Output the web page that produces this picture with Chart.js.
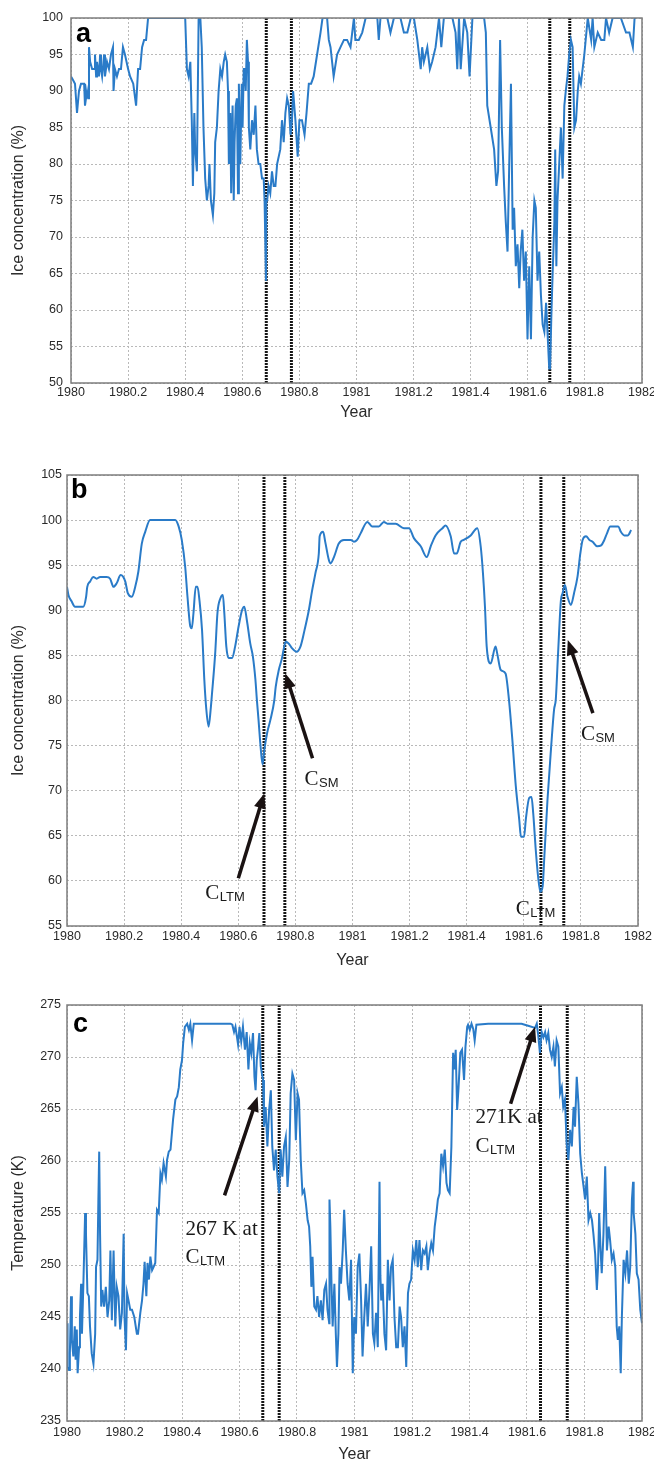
<!DOCTYPE html>
<html>
<head>
<meta charset="utf-8">
<script src="https://cdn.jsdelivr.net/npm/chart.js@4.4.1/dist/chart.umd.min.js"></script>
<style>
  html, body { margin: 0; padding: 0; background: #fff; }
  body { width: 654px; height: 1464px; position: relative; overflow: hidden; }
  canvas { position: absolute; left: 0; }
</style>
</head>
<body>
<canvas id="chartA" width="654" height="430" style="top:0px"></canvas>
<canvas id="chartB" width="654" height="545" style="top:430px"></canvas>
<canvas id="chartC" width="654" height="489" style="top:975px"></canvas>
<script>
// ---- panel a : ice concentration (%) ----
const aYears = [1980.000,1980.007,1980.014,1980.021,1980.028,1980.035,1980.046,1980.049,1980.056,1980.060,1980.063,1980.067,1980.074,1980.081,1980.084,1980.088,1980.091,1980.098,1980.102,1980.105,1980.109,1980.116,1980.119,1980.126,1980.133,1980.140,1980.147,1980.149,1980.154,1980.161,1980.168,1980.175,1980.182,1980.189,1980.200,1980.207,1980.218,1980.228,1980.235,1980.242,1980.249,1980.256,1980.263,1980.270,1980.300,1980.350,1980.400,
  1980.406,1980.412,1980.418,1980.423,1980.427,1980.432,1980.435,1980.441,1980.447,1980.453,1980.458,1980.464,1980.470,1980.476,1980.482,1980.485,1980.490,1980.497,1980.502,1980.505,1980.511,1980.517,1980.523,1980.529,1980.535,1980.540,1980.546,1980.550,1980.553,1980.558,1980.561,1980.566,1980.570,1980.573,1980.577,1980.581,1980.585,1980.588,1980.593,1980.598,1980.601,1980.605,1980.608,1980.612,1980.616,1980.620,1980.623,1980.628,1980.634,1980.640,1980.646,1980.651,1980.657,1980.663,1980.669,1980.675,1980.678,1980.683,1980.684,1980.687,1980.692,1980.698,1980.704,1980.710,1980.716,1980.722,1980.733,1980.739,1980.745,1980.751,1980.757,1980.763,1980.769,1980.774,1980.778,1980.786,1980.794,1980.800,1980.809,1980.818,1980.825,1980.833,1980.841,1980.850,1980.862,1980.874,1980.881,
  1980.885,1980.897,1980.903,1980.909,1980.920,1980.932,1980.944,1980.956,1980.967,1980.979,1980.991,1980.996,1981.008,1981.020,1981.032,1981.043,1981.073,1981.078,1981.084,1981.108,1981.119,1981.131,1981.154,1981.166,1981.178,1981.190,1981.201,1981.213,1981.225,1981.230,1981.236,1981.248,1981.257,1981.265,1981.277,1981.289,1981.297,1981.306,1981.336,1981.347,1981.353,1981.359,1981.365,1981.377,1981.388,1981.396,1981.406,1981.447,1981.453,1981.458,1981.470,1981.482,1981.490,1981.496,1981.503,1981.509,1981.517,1981.523,1981.529,1981.535,1981.541,1981.547,1981.552,1981.558,1981.564,1981.570,1981.575,1981.581,1981.587,1981.593,1981.599,1981.605,1981.611,1981.617,1981.623,1981.628,1981.634,1981.640,1981.646,1981.652,1981.658,1981.664,1981.669,1981.675,1981.678,1981.683,1981.687,1981.693,1981.696,1981.700,1981.704,1981.710,1981.716,1981.722,1981.728,1981.733,1981.739,1981.745,1981.751,1981.757,1981.763,1981.769,1981.775,1981.780,1981.786,1981.798,1981.810,1981.822,1981.827,1981.833,1981.845,1981.857,1981.868,1981.874,1981.885,1981.897,1981.926,1981.944,1981.956,1981.968,1981.974,1981.979];
const aConc = [92,91.5,91,87,90,91,91,88,90,89,96,94,93,93,95,92,94,92,95,93,92,95,92,94,93,95,96,90,93,92,93,93,96,95,93,92,91,88,93,93,96,97,97,100,100,100,100,
  93,92,94,86,77,87,82,79,100,100,96,85,78,75,77,80,75,73,76,83,85,90,93,92,94,95,94,90,80,87,76,88,75,83,88,89,76,91,80,91,85,93,93,90,97,94,85,82,86,84,88,82,80,80,78,78,75,64,75,75,77,76,79,77,77,80,82,86,83,87,89,88,84,86,90,86,81,86,86,84,87,91,91,92,95,98,100,
  100,100,97,96,92,95,96,97,97,96,100,97,97,98,100,100,100,97,100,100,98,100,100,98,98,100,100,97,93,96,94,96,93,94,96,100,96,100,100,98,93,100,93,100,98,92,100,100,98,88,85,82,77,79,97,85,77,72,68,80,91,71,74,66,69,63,68,71,64,68,56,66,56,70,75,74,64,68,62,58,57,61,57,52,52,60,65,72,82,66,75,80,85,78,88,90,92,95,97,96,85,86,90,92,91,95,100,97,100,96,98,97,97,100,98,100,100,98,98,96,100,100];
const aMarks = [1980.684, 1980.772, 1981.677, 1981.747];
const aRange = [50, 100];

// ---- panel b : smoothed ice concentration (%) ----
const bYears = [1980.000,1980.005,1980.016,1980.028,1980.046,1980.057,1980.067,1980.071,1980.081,1980.092,1980.104,1980.116,1980.139,1980.151,1980.163,1980.174,1980.188,1980.204,1980.213,1980.227,1980.239,1980.250,1980.262,1980.274,1980.291,1980.379,1980.391,1980.402,1980.414,1980.422,1980.432,1980.437,1980.443,1980.451,1980.457,1980.464,1980.473,1980.481,1980.488,1980.496,1980.504,1980.508,1980.519,1980.527,1980.537,1980.546,1980.551,1980.558,1980.566,1980.578,1980.589,1980.601,1980.613,1980.621,1980.630,1980.642,1980.651,1980.660,1980.665,1980.671,1980.677,1980.685,1980.691,1980.701,1980.712,1980.726,1980.731,1980.742,1980.753,1980.761,1980.766,1980.777,1980.788,1980.804,1980.818,1980.832,1980.847,1980.858,1980.870,1980.882,1980.885,1980.897,1980.905,1980.917,1980.923,1980.935,1980.952,1980.970,1980.994,1981.005,1981.016,1981.028,1981.052,1981.069,1981.092,1981.110,1981.122,1981.151,1981.180,1981.198,1981.215,1981.239,1981.260,1981.274,1981.291,1981.315,1981.326,1981.344,1981.356,1981.365,1981.379,1981.390,1981.414,1981.437,1981.449,1981.457,1981.464,1981.470,1981.484,1981.501,1981.507,1981.519,1981.536,1981.548,1981.560,1981.572,1981.584,1981.590,1981.601,1981.607,1981.619,1981.627,1981.633,1981.642,1981.650,1981.658,1981.666,1981.672,1981.683,1981.695,1981.706,1981.712,1981.720,1981.730,1981.736,1981.744,1981.753,1981.765,1981.776,1981.788,1981.798,1981.806,1981.818,1981.830,1981.841,1981.857,1981.871,1981.882,1981.891,1981.903,1981.917,1981.931,1981.940,1981.952,1981.964,1981.976];
const bConc = [92.6,91.7,91,90.4,90.4,90.4,91.5,92.6,93.2,93.7,93.5,93.7,93.7,93.5,92.6,93,93.9,93.2,91.9,91.5,92.6,94.3,97.4,98.7,100,100,99.3,97.8,94.8,91.5,88.2,88,89.7,92.6,92.6,91.1,87.8,82.3,79,77.1,79.3,80.8,85.2,89.7,91.3,91.7,89.7,86,84.7,84.7,86,88.2,90,90.4,88.9,86.3,84.9,82.3,80.1,77.8,75.3,72.9,74.5,76.4,77.8,80,81.5,83.4,84.7,86,86.5,86.3,85.8,85.4,86,87.8,90,92.1,94.1,96.3,98.2,98.7,97.5,95.6,95.2,95.9,97.4,97.8,97.8,97.6,97.8,98.5,99.8,99.3,99.3,99.8,99.6,99.6,99.1,99.1,98,97.1,95.9,97.1,98.3,99.1,99.4,98.2,96.3,96.3,97.6,97.8,98.3,99.1,97.1,94.1,90.4,86,84.1,86,85.2,83.4,83,80.1,75.6,70.5,66.8,64.9,64.9,66.8,69.2,69.3,67.5,63.4,60.5,58.8,59.4,62.7,69,74.5,79,80.1,85.2,91.1,91.9,92.8,91.5,90.6,91.9,93.7,96.3,97.8,98.2,97.8,97.6,97.1,97.2,97.8,98.5,99.3,99.3,99.3,98.7,98.3,98.3,98.9];
const bMarks = [1980.690, 1980.763, 1981.660, 1981.740];
const bRange = [55, 105];
const bArrows = [[1980.600, 60.3, 1980.691, 69.7], [1980.860, 73.6, 1980.765, 83.0], [1981.842, 78.6, 1981.754, 86.7]];
const bNotes = [
  { x: 1980.484, y: 58.0, text: 'C', sub: 'LTM' },
  { x: 1980.832, y: 70.6, text: 'C', sub: 'SM' },
  { x: 1981.800, y: 75.6, text: 'C', sub: 'SM' },
  { x: 1981.572, y: 56.2, text: 'C', sub: 'LTM' }
];

// ---- panel c : temperature (K) ----
const cYears = [1980.000,1980.002,1980.007,1980.010,1980.014,1980.017,1980.022,1980.027,1980.030,1980.034,1980.037,1980.042,1980.045,1980.049,1980.052,1980.057,1980.063,1980.066,1980.071,1980.076,1980.080,1980.086,1980.092,1980.098,1980.101,1980.106,1980.109,1980.112,1980.115,1980.119,1980.123,1980.129,1980.135,1980.141,1980.147,1980.151,1980.156,1980.162,1980.168,1980.173,1980.179,1980.185,1980.191,1980.197,1980.200,1980.205,1980.209,1980.214,1980.220,1980.226,1980.234,1980.243,1980.247,1980.255,1980.261,1980.266,1980.270,1980.276,1980.280,1980.285,1980.290,1980.296,1980.301,1980.307,1980.313,1980.319,1980.325,1980.330,1980.336,1980.344,1980.348,1980.354,1980.360,1980.369,1980.377,1980.383,1980.389,1980.394,1980.400,1980.404,1980.410,1980.418,1980.424,1980.429,1980.435,1980.441,1980.487,1980.534,1980.569,1980.575,1980.581,1980.586,1980.595,1980.600,1980.606,1980.612,1980.619,1980.625,1980.631,1980.636,1980.641,1980.647,1980.652,1980.656,1980.660,1980.664,1980.669,1980.674,1980.678,1980.682,1980.685,1980.691,1980.697,1980.703,1980.709,1980.714,1980.720,1980.726,1980.732,1980.738,1980.743,1980.749,1980.755,1980.761,1980.767,1980.773,1980.778,1980.784,1980.790,1980.796,1980.802,1980.807,1980.813,1980.819,1980.825,1980.831,1980.837,1980.842,1980.846,1980.850,1980.854,1980.860,1980.866,1980.871,1980.877,1980.883,1980.889,1980.895,1980.901,1980.906,1980.912,1980.913,1980.916,1980.920,1980.924,1980.930,1980.935,1980.939,1980.944,1980.948,1980.953,1980.959,1980.964,1980.970,1980.976,1980.982,1980.988,1980.994,1980.999,1981.005,1981.011,1981.017,1981.023,1981.028,1981.034,1981.040,1981.046,1981.052,1981.058,1981.064,1981.069,1981.075,1981.081,1981.087,1981.090,1981.093,1981.098,1981.104,1981.110,1981.116,1981.122,1981.127,1981.133,1981.139,1981.145,1981.151,1981.157,1981.162,1981.168,1981.174,1981.180,1981.186,1981.191,1981.197,1981.203,1981.209,1981.215,1981.220,1981.226,1981.232,1981.238,1981.244,1981.250,1981.255,1981.261,1981.267,1981.273,1981.279,1981.285,1981.290,1981.296,1981.302,1981.308,1981.314,1981.320,1981.325,1981.331,1981.337,1981.343,1981.348,1981.352,1981.357,1981.362,1981.368,1981.374,1981.381,1981.386,1981.392,1981.395,1981.401,1981.407,1981.413,1981.418,1981.424,1981.465,1981.523,1981.581,1981.604,1981.628,1981.634,1981.639,1981.645,1981.651,1981.657,1981.663,1981.668,1981.674,1981.680,1981.686,1981.692,1981.697,1981.703,1981.709,1981.715,1981.721,1981.726,1981.732,1981.738,1981.744,1981.750,1981.756,1981.762,1981.767,1981.773,1981.779,1981.785,1981.791,1981.797,1981.802,1981.808,1981.814,1981.820,1981.826,1981.831,1981.837,1981.843,1981.847,1981.851,1981.856,1981.860,1981.866,1981.872,1981.878,1981.884,1981.889,1981.895,1981.901,1981.907,1981.912,1981.916,1981.921,1981.926,1981.930,1981.936,1981.942,1981.948,1981.954,1981.959,1981.965,1981.969,1981.971,1981.977,1981.982,1981.988,1981.994,1982.000];
const cTemp = [244.4,240.2,239.9,241.5,247,242.8,241.2,244.1,240.9,243.8,239.6,242.1,245,248.2,243.4,248.2,255,253,247.3,247,244.1,241.5,240.5,243.4,249.8,250.5,256,260.9,253,246,247.6,246,247.9,245,246.6,251.4,244.7,251.4,244.1,247.9,247,243.8,245.4,253,245,241.8,247.3,246.6,245.7,245.7,245,243.4,243.4,245.4,246.6,248.2,250.3,247,250.2,248.6,250.8,249.5,249.8,250.2,255.3,255,258.8,258.2,259.8,258.5,260.1,260.9,261.1,264,265.9,266.2,267.1,268.8,269.7,271.3,272.9,273.2,272.6,273.2,271.6,273.2,273.2,273.2,273.2,273.1,272.4,272.9,271.2,272.9,271.5,272.9,270.7,272.4,268.8,271.3,270.4,272.3,268.1,266.8,269.7,270.7,272.3,269.1,268.4,267.8,263.3,265.2,261.4,264.9,266.8,261.4,259.1,261.1,258.5,256.9,261.1,258.5,261.4,262.3,257.5,260.1,266.5,268.4,267.8,262,266.5,265.9,260.1,256.9,257.2,255.9,254.3,253.7,251.8,247.9,250.8,246,245.7,247,245,246.6,244.7,247.6,248.2,245.7,244.4,256.3,253.7,248.2,244.1,248.2,243.4,240.2,243.4,249.8,248.2,251.4,255.3,251.4,248.2,246.6,250.5,239.6,245,243.4,249.8,251.1,246.6,241.2,245,248.2,244.1,247.6,251.8,243.4,242.5,245.4,242.1,258,249,246.6,248.2,243.4,241.8,250.5,246.6,249.8,250.5,245,242.1,242.1,246,245,242.1,244.1,240.2,247.3,248.2,248.6,251.4,250.5,252.4,249.8,252.4,249.5,251.4,251.1,251.8,249.5,251.1,252.1,251.4,253.7,255,256.3,256.9,260.7,259.5,261.1,257.9,257.2,256.9,261.4,270.4,268.8,270.7,264.9,267.1,270.4,270.7,267.8,271,272.9,273.1,272.6,273.2,272.7,271.6,273.1,273.2,273.2,273.2,273,272.8,273.2,272.1,270.4,272.4,271.9,272.4,271.6,272.3,270.7,270,271,269.1,271.6,271,266.5,267.1,265.2,265.9,261.7,260.1,263,261.4,265.2,263.3,268.1,265.5,260.7,258.8,257.5,256.3,258.5,254.3,255,254.3,253,251.1,247.6,249.8,255,251.4,249.2,253,259.5,251.4,253.7,252.4,250.5,251.1,249.8,244.1,242.8,244.1,239.6,245,250.5,249.2,251.4,248.2,249.8,256.3,258,255,253,249.2,248.6,245.7,244.4];
const cMarks = [1980.681, 1980.738, 1981.647, 1981.740];
const cRange = [235, 275];
const cArrows = [[1980.548, 256.7, 1980.663, 266.2], [1981.543, 265.5, 1981.628, 272.9]];
const cNotes = [
  { x: 1980.412, y: 252.9, text: '267 K at', sub: '' },
  { x: 1980.412, y: 250.2, text: 'C', sub: 'LTM' },
  { x: 1981.421, y: 263.65, text: '271K at', sub: '' },
  { x: 1981.421, y: 260.9, text: 'C', sub: 'LTM' }
];

const yearTicks = [1980, 1982, 0.2];

Chart.defaults.font.family = '"Liberation Sans", Arial, sans-serif';
Chart.defaults.color = '#2a2a2a';

const BLUE = '#2a7bc8';
const SERIF = '"Liberation Serif", "Times New Roman", serif';
const SANS = '"Liberation Sans", Arial, sans-serif';

function drawArrow(ctx, x0, y0, x1, y1) {
  const ang = Math.atan2(y1 - y0, x1 - x0);
  const len = 15, half = 6;
  const bx = x1 - len * Math.cos(ang), by = y1 - len * Math.sin(ang);
  ctx.strokeStyle = '#1a1212';
  ctx.fillStyle = '#1a1212';
  ctx.lineWidth = 3.5;
  ctx.lineCap = 'butt';
  ctx.beginPath();
  ctx.moveTo(x0, y0);
  ctx.lineTo(bx + 3 * Math.cos(ang), by + 3 * Math.sin(ang));
  ctx.stroke();
  ctx.beginPath();
  ctx.moveTo(x1, y1);
  ctx.lineTo(bx - half * Math.sin(ang), by + half * Math.cos(ang));
  ctx.lineTo(bx + half * Math.sin(ang), by - half * Math.cos(ang));
  ctx.closePath();
  ctx.fill();
}

const framePlugin = {
  id: 'frame',
  afterDatasetsDraw(chart) {
    const { ctx, chartArea: a } = chart;
    ctx.save();
    ctx.strokeStyle = '#7d7d7d';
    ctx.lineWidth = 1.5;
    ctx.strokeRect(a.left, a.top, a.right - a.left, a.bottom - a.top);
    ctx.restore();
  }
};

const notesPlugin = {
  id: 'notes',
  afterDraw(chart, args, opts) {
    const { ctx, chartArea, scales: { x, y } } = chart;
    ctx.save();
    ctx.fillStyle = '#000';
    ctx.textBaseline = 'alphabetic';
    ctx.textAlign = 'left';
    ctx.font = 'bold 27px ' + SANS;
    ctx.fillText(opts.letter, chartArea.left + opts.letterPos[0], chartArea.top + opts.letterPos[1]);
    (opts.arrows || []).forEach(a => {
      drawArrow(ctx, x.getPixelForValue(a[0]), y.getPixelForValue(a[1]),
        x.getPixelForValue(a[2]), y.getPixelForValue(a[3]));
    });
    (opts.notes || []).forEach(n => {
      const px = x.getPixelForValue(n.x), py = y.getPixelForValue(n.y);
      ctx.fillStyle = '#1a1a1a';
      ctx.font = '21px ' + SERIF;
      ctx.fillText(n.text, px, py);
      if (n.sub) {
        const w = ctx.measureText(n.text).width;
        ctx.font = '13px ' + SANS;
        ctx.fillText(n.sub, px + w + 0.5, py + 2);
      }
    });
    ctx.restore();
  }
};

function markerSets(marks, range) {
  return marks.map(m => ({
    data: [{ x: m, y: range[0] }, { x: m, y: range[1] }],
    borderColor: '#161616',
    borderWidth: 3,
    borderDash: [2, 1],
    pointRadius: 0,
    clip: 0
  }));
}

function makePanel(id, p) {
  const series = {
    data: p.years.map((t, i) => ({ x: t, y: p.values[i] })),
    borderColor: BLUE,
    borderWidth: 2,
    pointRadius: 0,
    tension: 0,
    cubicInterpolationMode: p.smooth ? 'monotone' : 'default',
    clip: 0
  };
  new Chart(document.getElementById(id), {
    type: 'line',
    data: { datasets: [series].concat(markerSets(p.marks, p.range)) },
    plugins: [framePlugin, notesPlugin],
    options: {
      responsive: false,
      animation: false,
      devicePixelRatio: 1,
      layout: { padding: { top: p.pad[0], right: p.pad[1], bottom: 0, left: 0 } },
      plugins: {
        legend: { display: false },
        tooltip: { enabled: false },
        notes: { letter: p.letter, letterPos: p.letterPos, arrows: p.arrows, notes: p.notes }
      },
      scales: {
        x: {
          type: 'linear',
          min: yearTicks[0],
          max: yearTicks[1],
          afterFit(s) { s.height = p.xAxisH; s.paddingLeft = 0; s.paddingRight = 0; },
          ticks: {
            stepSize: yearTicks[2],
            autoSkip: false,
            maxRotation: 0,
            padding: p.xTickPad,
            font: { size: 12.5 },
            callback: v => String(Number(v.toFixed(1)))
          },
          grid: { color: '#b9b9b9', lineWidth: 1, drawTicks: false },
          border: { display: false, dash: [2, 2] },
          title: { display: true, text: 'Year', font: { size: 16 }, padding: { top: 0, bottom: p.xTitlePad } }
        },
        y: {
          min: p.range[0],
          max: p.range[1],
          afterFit(s) { s.width = p.yAxisW; },
          ticks: { stepSize: 5, padding: p.yTickPad, font: { size: 12.5 } },
          grid: { color: '#b9b9b9', lineWidth: 1, drawTicks: false },
          border: { display: false, dash: [2, 2] },
          title: { display: true, text: p.yTitle, font: { size: 16 }, padding: { top: 9, bottom: 0 } }
        }
      }
    }
  });
}

makePanel('chartA', {
  years: aYears, values: aConc, marks: aMarks, range: aRange, smooth: false,
  letter: 'a', letterPos: [5, 24], arrows: [], notes: [],
  pad: [18, 12], xAxisH: 47, yAxisW: 71, xTickPad: 2, xTitlePad: 8, yTickPad: 8,
  yTitle: 'Ice concentration (%)'
});

makePanel('chartB', {
  years: bYears, values: bConc, marks: bMarks, range: bRange, smooth: true,
  letter: 'b', letterPos: [4, 23], arrows: bArrows, notes: bNotes,
  pad: [45, 16], xAxisH: 49, yAxisW: 67, xTickPad: 3, xTitlePad: 5, yTickPad: 5,
  yTitle: 'Ice concentration (%)'
});

makePanel('chartC', {
  years: cYears, values: cTemp, marks: cMarks, range: cRange, smooth: false,
  letter: 'c', letterPos: [6, 27], arrows: cArrows, notes: cNotes,
  pad: [30, 12], xAxisH: 43, yAxisW: 67, xTickPad: 4, xTitlePad: 0, yTickPad: 6,
  yTitle: 'Temperature (K)'
});
</script>
</body>
</html>
